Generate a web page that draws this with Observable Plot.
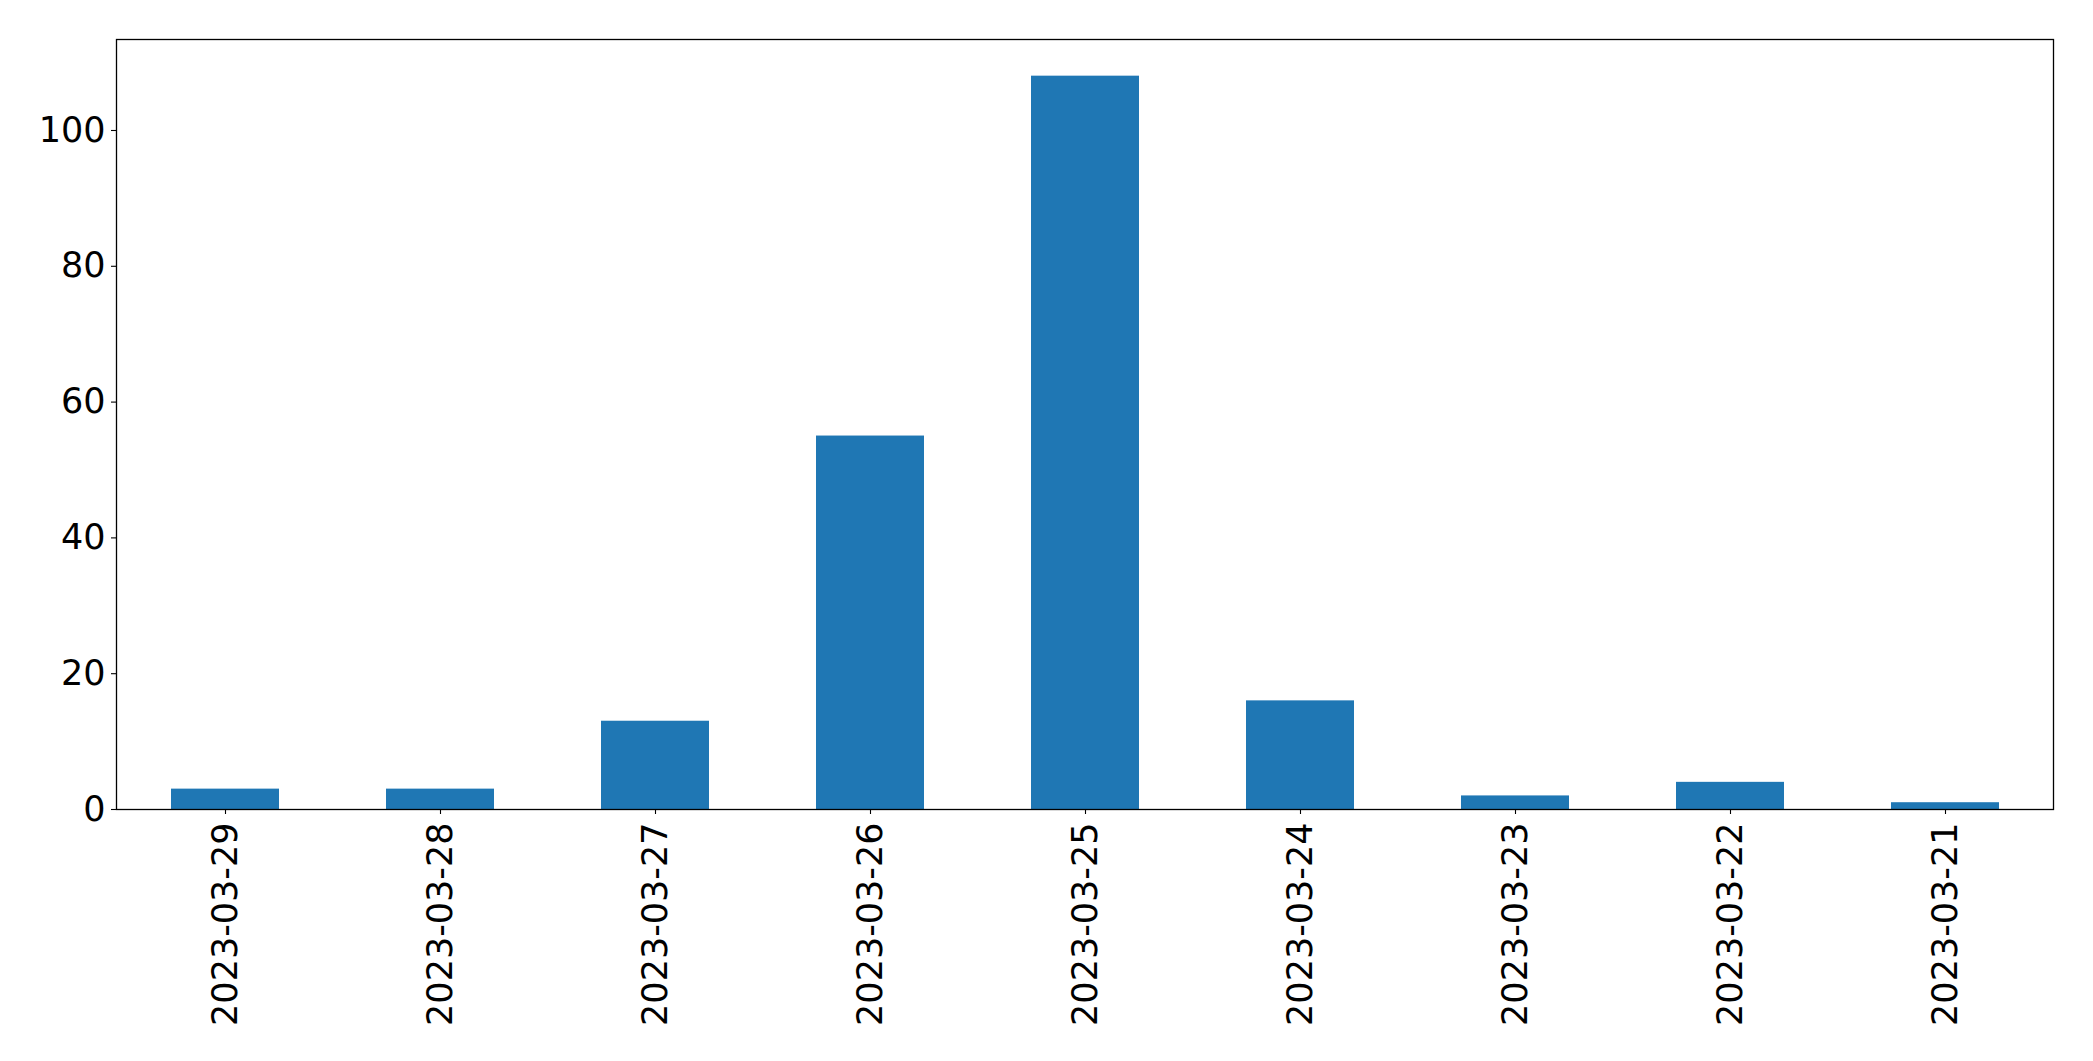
<!DOCTYPE html>
<html>
<head>
<meta charset="utf-8">
<script src="https://cdn.jsdelivr.net/npm/d3@7"></script>
<script src="https://cdn.jsdelivr.net/npm/@observablehq/plot@0.6"></script>
<style>
  html, body { margin: 0; padding: 0; background: #fff; }
  #chart svg { display: block; }
</style>
</head>
<body>
<div id="chart"></div>
<script>
const dates = ["2023-03-29","2023-03-28","2023-03-27","2023-03-26","2023-03-25","2023-03-24","2023-03-23","2023-03-22","2023-03-21"];
const counts = [3, 3, 13, 55, 108, 16, 2, 4, 1];
const yTicks = [0, 20, 40, 60, 80, 100];

const data = dates.map((d, i) => ({date: d, count: counts[i]}));

const chart = Plot.plot({
  width: 2093,
  height: 1061,
  marginLeft: 116,
  marginRight: 40,
  marginTop: 39,
  marginBottom: 252,
  style: {fontFamily: "DejaVu Sans", background: "#fff", color: "#000"},
  x: {domain: dates, paddingInner: 0.5, paddingOuter: 0.25},
  y: {domain: [0, 113.4]},
  marks: [
    Plot.barY(data, {x: "date", y: "count", fill: "#1f77b4"}),
    Plot.frame({stroke: "#000", strokeWidth: 1.3}),
    Plot.axisY({ticks: yTicks, tickSize: 5, tickPadding: 6, fontSize: 35, label: null, stroke: "#000", strokeWidth: 1.1}),
    Plot.axisX({tickRotate: -90, tickSize: 5, tickPadding: 8, fontSize: 35, label: null, stroke: "#000", strokeWidth: 1.1})
  ]
});
document.getElementById("chart").appendChild(chart);
</script>
</body>
</html>
